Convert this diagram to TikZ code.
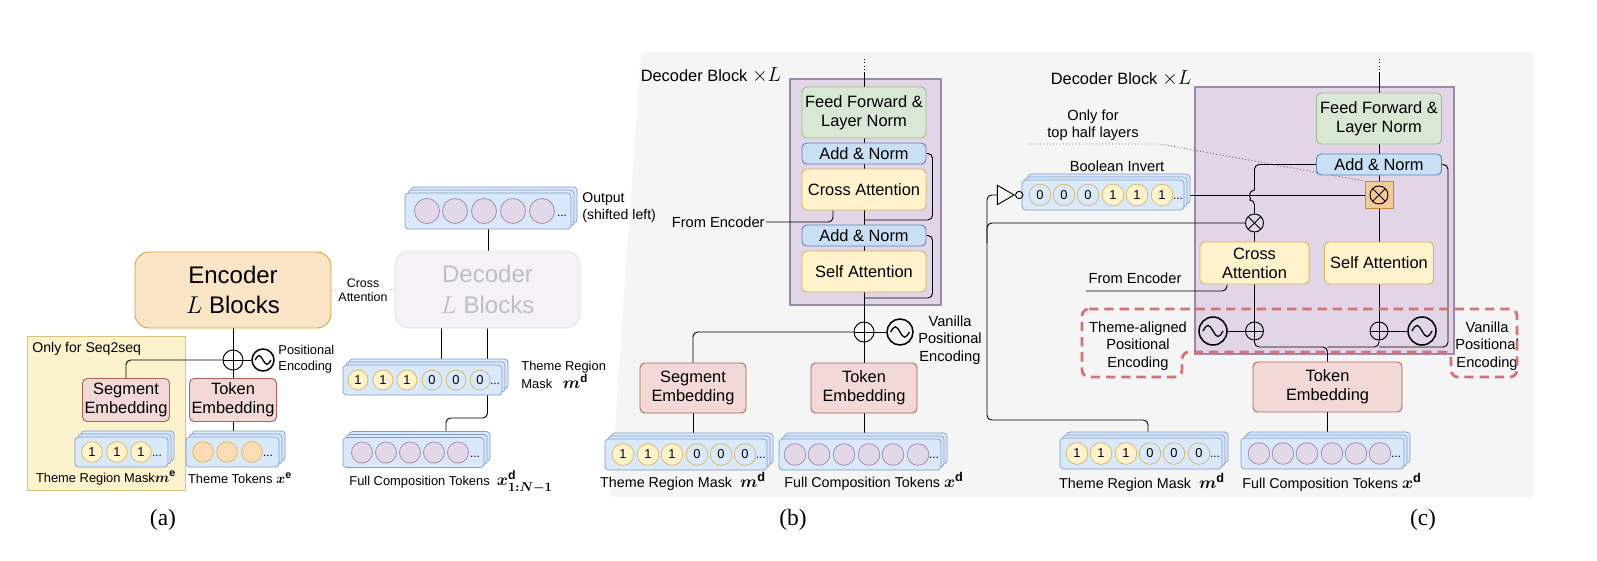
\documentclass[tikz,border=0pt]{standalone}
\usepackage{amsmath}
\usepackage{fontspec}
\setmainfont{Liberation Sans}
\newfontfamily\capfont{Liberation Serif}
\usepackage{xcolor}
\usetikzlibrary{positioning,calc,shadows,shapes.geometric}

\definecolor{encFill}{HTML}{F9E4C6}
\definecolor{encLine}{HTML}{D7A53E}
\definecolor{s2sFill}{HTML}{FCF3CD}
\definecolor{s2sLine}{HTML}{D9C47E}
\definecolor{embFill}{HTML}{F2D9D6}
\definecolor{embLine}{HTML}{B0625B}
\definecolor{attFill}{HTML}{FFF2CC}
\definecolor{attLine}{HTML}{D6B656}
\definecolor{normFill}{HTML}{C9DFF3}
\definecolor{normLine}{HTML}{5E86B8}
\definecolor{ffFill}{HTML}{D8E8D5}
\definecolor{ffLine}{HTML}{9DBE8C}
\definecolor{seqFill}{HTML}{DAE8FC}
\definecolor{seqLine}{HTML}{7C9CCB}
\definecolor{tokFill}{HTML}{E3D8E9}
\definecolor{tokLine}{HTML}{9A8AA3}
\definecolor{orgFill}{HTML}{FBDDB4}
\definecolor{blkFill}{HTML}{E1D5E7}
\definecolor{blkLine}{HTML}{9D88AD}
\definecolor{panelGray}{HTML}{F5F5F5}
\definecolor{decFill}{HTML}{F4F2F6}
\definecolor{decLine}{HTML}{E2DFE6}
\definecolor{decText}{HTML}{BFBFBF}
\definecolor{mulFill}{HTML}{F3CB96}
\definecolor{mulLine}{HTML}{C08A3E}
\definecolor{redDash}{HTML}{D67272}

\pgfdeclarelayer{bg}
\pgfdeclarelayer{wires}
\pgfsetlayers{bg,wires,main}

% bold symbol with bold superscript, set at a given size
\newcommand{\bvec}[3]{{\fontsize{#1}{#1}\selectfont$\boldsymbol{#2}^{\mathbf{#3}}$}}

\tikzset{
  wire/.style={line width=0.8pt, rounded corners=4pt},
  box/.style={draw, rounded corners=4pt, align=center, line width=0.8pt,
    font=\fontsize{14}{16}\selectfont, inner sep=1pt},
  encbox/.style={box, fill=encFill, draw=encLine, rounded corners=12pt,
    font=\fontsize{20.5}{26}\selectfont},
  decbox/.style={box, fill=decFill, draw=decLine, rounded corners=12pt,
    text=decText, font=\fontsize{20.5}{26}\selectfont},
  emb/.style={box, fill=embFill, draw=embLine},
  attn/.style={box, fill=attFill, draw=attLine},
  addnorm/.style={box, fill=normFill, draw=normLine},
  ffn/.style={box, fill=ffFill, draw=ffLine},
  blockbg/.style={draw=blkLine, fill=blkFill, line width=0.9pt},
  seq/.style={draw=seqLine, fill=seqFill, rounded corners=3pt, line width=0.6pt,
    copy shadow={shadow xshift=0.18cm, shadow yshift=0.18cm},
    copy shadow={shadow xshift=0.09cm, shadow yshift=0.09cm}},
  bit/.style={circle, draw=attLine, line width=0.6pt, inner sep=0pt,
    font=\fontsize{11}{11}\selectfont},
  tok/.style={circle, draw=tokLine, fill=tokFill, line width=0.6pt, inner sep=0pt},
  ellip/.style={inner sep=0pt, font=\fontsize{10}{10}\selectfont},
  lbl/.style={inner sep=1pt, align=center, font=\fontsize{12.5}{15}\selectfont},
  smalltxt/.style={font=\fontsize{11}{13.5}\selectfont},
  addop/.style={circle, draw, line width=0.8pt, minimum size=#1, inner sep=0pt,
    path picture={\draw[line width=0.8pt]
      (path picture bounding box.north) -- (path picture bounding box.south)
      (path picture bounding box.west) -- (path picture bounding box.east);}},
  mulop/.style={circle, draw, line width=0.8pt, minimum size=#1, inner sep=0pt,
    path picture={\draw[line width=0.8pt]
      (path picture bounding box.north west) -- (path picture bounding box.south east)
      (path picture bounding box.south west) -- (path picture bounding box.north east);}},
  sinewave/.style={circle, draw, line width=1.3pt, minimum size=#1, inner sep=0pt,
    path picture={\draw[line width=1.1pt]
      ([xshift=-0.36*#1]path picture bounding box.center)
      sin ++(0.18*#1,0.2*#1) cos ++(0.18*#1,-0.2*#1)
      sin ++(0.18*#1,-0.2*#1) cos ++(0.18*#1,0.2*#1);}},
  notgate/.style={isosceles triangle, draw, line width=0.8pt,
    isosceles triangle apex angle=60, minimum size=0.5cm, inner sep=0pt},
}

\begin{document}
\begin{tikzpicture}[x=0.03cm, y=-0.03cm]
\useasboundingbox (0,0) rectangle (1597,560);

% backgrounds
\begin{pgfonlayer}{bg}
  \fill[panelGray] (641,52) -- (1533,52) -- (1533,497) -- (610,497) -- cycle;
  \draw[fill=s2sFill, draw=s2sLine, line width=0.8pt] (27,336) rectangle (185,490);
  \node[blockbg, minimum width=4.53cm, minimum height=6.78cm] (blkB) at (865.5,192) {};
  \node[blockbg, minimum width=7.77cm, minimum height=8.01cm] (blkC) at (1324.5,220.5) {};
\end{pgfonlayer}

% ---------------- (a) ----------------
\node[encbox, minimum width=5.88cm, minimum height=2.28cm] (encA) at (233,290) {Encoder\\$L$ Blocks};
\node[decbox, minimum width=5.55cm, minimum height=2.31cm] (decA) at (487.5,289.5) {Decoder\\$L$ Blocks};
\node[lbl, fill=white, font=\fontsize{10.6}{12}\selectfont] (xattA) at (363,290) {Cross\\Attention};

\node[lbl, anchor=west, font=\fontsize{12}{14}\selectfont] (s2sA) at (31,349) {Only for Seq2seq};
\node[addop=0.6cm] (plusA) at (233,360) {};
\node[sinewave=0.66cm] (sineA) at (263,360) {};
\node[lbl, smalltxt, anchor=west, align=left] (posA) at (277,359) {Positional\\Encoding};
\node[emb, minimum width=2.61cm, minimum height=1.29cm] (segA) at (126,400) {Segment\\Embedding};
\node[emb, minimum width=2.61cm, minimum height=1.29cm] (tokA) at (233,400) {Token\\Embedding};

\node[seq, minimum width=2.79cm, minimum height=0.9cm] (maskA) at (121.5,452) {};
\foreach \x [count=\i] in {92,117,141}
  \node[bit, fill=attFill, minimum size=0.62cm] (maskA-\i) at (\x,452) {1};
\node[ellip] (maskA-dots) at (157,456) {...};
\node[seq, minimum width=2.79cm, minimum height=0.9cm] (tseqA) at (232.5,452) {};
\foreach \x [count=\i] in {203,227,252}
  \node[tok, fill=orgFill, draw=attLine, minimum size=0.62cm] (tseqA-\i) at (\x,452) {};
\node[ellip] (tseqA-dots) at (268,456) {...};
\node[lbl, smalltxt] (mLblA) at (106,478) {Theme Region Mask\bvec{13}{m}{e}};
\node[lbl, smalltxt] (xLblA) at (240,478) {Theme Tokens \bvec{13}{x}{e}};

\node[seq, minimum width=4.98cm, minimum height=1.08cm] (outA) at (488,211) {};
\foreach \x [count=\i] in {427,455,484,513,542}
  \node[tok, minimum size=0.75cm] (outA-\i) at (\x,211) {};
\node[ellip] (outA-dots) at (562,216) {...};
\node[lbl, anchor=west, align=left, font=\fontsize{12}{14.5}\selectfont] (outLblA) at (581,208) {Output\\(shifted left)};

\node[seq, minimum width=4.77cm, minimum height=0.9cm] (maskAd) at (422.5,380) {};
\foreach \x/\v/\f [count=\i] in {358/1/attFill,383/1/attFill,407/1/attFill,432/0/seqFill,456/0/seqFill,480/0/seqFill}
  \node[bit, fill=\f, minimum size=0.6cm] (maskAd-\i) at (\x,380) {\v};
\node[ellip] (maskAd-dots) at (495,384) {...};
\node[lbl, anchor=west, align=left, font=\fontsize{11}{13}\selectfont] (mLblAd) at (520,375) {Theme Region\\Mask\ \ \ \bvec{14}{m}{d}};

\node[seq, minimum width=4.23cm, minimum height=0.9cm] (compA) at (413.5,452.5) {};
\foreach \x [count=\i] in {362,386,410,434,458}
  \node[tok, minimum size=0.63cm] (compA-\i) at (\x,452.5) {};
\node[ellip] (compA-dots) at (475,457) {...};
\node[lbl, smalltxt] (xLblAd) at (451,482) {Full Composition Tokens\ \ {\fontsize{15}{15}\selectfont$\boldsymbol{x}^{\mathbf{d}}_{\boldsymbol{1{:}N{-}1}}$}};

\begin{pgfonlayer}{wires}
  \draw[wire] (encA) -- (plusA);
  \draw[wire] (plusA) -- (tokA);
  \draw[wire] (segA.north) |- (plusA.west);
  \draw[wire] (plusA) -- (sineA);
  \draw[wire] (tokA.south) -- (tokA.south |- tseqA.north);
  \draw[dotted, line width=0.8pt, black!60] (encA.east) -- (decA.west);
  \draw[wire] (outA.south) -- (outA.south |- decA.north);
  \draw[wire] ([xshift=-1.37cm]decA.south) -- ([xshift=-1.37cm]decA.south |- maskAd.north);
  \coordinate (bendA) at (446,418);
  \draw[wire] (decA.south) |- (bendA) -- (bendA |- compA.north);
\end{pgfonlayer}

% ---------------- (b) ----------------
\node[lbl, font=\fontsize{14}{16}\selectfont] (titleB) at (711,75) {Decoder Block {\fontsize{17}{17}\selectfont$\times L$}};
\node[ffn, minimum width=3.72cm, minimum height=1.53cm] (ffB) at (864,112.5) {Feed Forward \&\\Layer Norm};
\node[addnorm, minimum width=3.72cm, minimum height=0.63cm] (anB1) at (864,153.5) {Add \& Norm};
\node[attn, minimum width=3.72cm, minimum height=1.23cm] (caB) at (864,189.5) {Cross Attention};
\node[addnorm, minimum width=3.72cm, minimum height=0.63cm] (anB2) at (864,235.5) {Add \& Norm};
\node[attn, minimum width=3.72cm, minimum height=1.23cm] (saB) at (864,271.5) {Self Attention};
\node[lbl, anchor=east] (feB) at (766,222) {From Encoder};

\node[addop=0.6cm] (plusB) at (864,332) {};
\node[sinewave=0.78cm] (sineB) at (900,332) {};
\node[lbl] (vanB) at (950,340) {Vanilla\\Positional\\Encoding};
\node[emb, minimum width=3.18cm, minimum height=1.5cm] (segB) at (693,388) {Segment\\Embedding};
\node[emb, minimum width=3.18cm, minimum height=1.5cm] (tokB) at (864,388) {Token\\Embedding};

\node[seq, minimum width=4.86cm, minimum height=0.93cm] (maskB) at (686,454.5) {};
\foreach \x/\v/\f [count=\i] in {623/1/attFill,648/1/attFill,672/1/attFill,697/0/seqFill,721/0/seqFill,745/0/seqFill}
  \node[bit, fill=\f, minimum size=0.65cm] (maskB-\i) at (\x,454.5) {\v};
\node[ellip] (maskB-dots) at (761,458) {...};
\node[seq, minimum width=4.86cm, minimum height=0.93cm] (compB) at (860,454.5) {};
\foreach \x [count=\i] in {795,819,844,869,893,918}
  \node[tok, minimum size=0.65cm] (compB-\i) at (\x,454.5) {};
\node[ellip] (compB-dots) at (934,458) {...};
\node[lbl, font=\fontsize{12.2}{15}\selectfont] (mLblB) at (683,481) {Theme Region Mask\ \ \bvec{15.5}{m}{d}};
\node[lbl, font=\fontsize{12.2}{15}\selectfont] (xLblB) at (874,481) {Full Composition Tokens \bvec{15.5}{x}{d}};

\begin{pgfonlayer}{wires}
  \coordinate (topB) at (864,73);
  \draw[wire, dotted] (topB) -- ++(0,-16);
  \draw[wire] (topB) -- (ffB.north);
  \draw[wire] (ffB) -- (anB1);
  \draw[wire] (anB1) -- (caB);
  \draw[wire] (caB) -- (anB2);
  \draw[wire] (anB2) -- (saB);
  \draw[wire] (saB) -- (plusB);
  \draw[wire] (plusB) -- (tokB);
  \coordinate (resB1) at (864,220);
  \coordinate (resB2) at (864,298);
  \draw[wire] (anB1.east) -- ++(6,0) |- (resB1);
  \draw[wire] (anB2.east) -- ++(6,0) |- (resB2);
  \draw[wire] (feB.east) -| ([xshift=-0.93cm]caB.south);
  \draw[wire] (segB.north) |- (plusB.west);
  \draw[wire] (plusB) -- (sineB);
  \draw[wire] (segB.south) -- (segB.south |- maskB.north);
  \draw[wire] (tokB.south) -- (tokB.south |- compB.north);
\end{pgfonlayer}

% ---------------- (c) ----------------
\node[lbl, font=\fontsize{14}{16}\selectfont] (titleC) at (1121,78) {Decoder Block {\fontsize{17}{17}\selectfont$\times L$}};
\node[ffn, minimum width=3.75cm, minimum height=1.53cm] (ffC) at (1379,118.5) {Feed Forward \&\\Layer Norm};
\node[addnorm, minimum width=3.75cm, minimum height=0.63cm] (anC) at (1379,164.5) {Add \& Norm};
\node[draw=mulLine, fill=mulFill, line width=0.8pt, minimum width=0.84cm, minimum height=0.81cm] (multC) at (1379,195) {};
\node[mulop=0.54cm] (multCx) at (multC.center) {};
\node[attn, minimum width=3.27cm, minimum height=1.26cm] (caC) at (1254.5,263) {Cross\\Attention};
\node[attn, minimum width=3.27cm, minimum height=1.26cm] (saC) at (1379,263) {Self Attention};
\node[mulop=0.54cm] (otC) at (1254.5,223) {};

\node[addop=0.54cm] (plusCL) at (1254.5,331) {};
\node[addop=0.54cm] (plusCR) at (1379,331) {};
\node[sinewave=0.84cm] (sineCL) at (1213,331) {};
\node[sinewave=0.84cm] (sineCR) at (1422,331) {};

\node[lbl] (onlyC) at (1093,125) {Only for\\top half layers};
\node[lbl] (boolLbl) at (1117,166) {Boolean Invert};
\node[seq, minimum width=4.86cm, minimum height=0.9cm] (boolC) at (1103,195) {};
\foreach \x/\v/\f [count=\i] in {1040/0/seqFill,1064/0/seqFill,1088/0/seqFill,1113/1/attFill,1137/1/attFill,1162/1/attFill}
  \node[bit, fill=\f, minimum size=0.65cm] (boolC-\i) at (\x,195) {\v};
\node[ellip] (boolC-dots) at (1178,199) {...};
\node[notgate] (notC) at (1003,195) {};
\node[circle, draw, line width=0.8pt, minimum size=0.22cm, inner sep=0pt, right=0pt of notC] (bubC) {};

\node[lbl] (feC) at (1135,278) {From Encoder};
\node[lbl] (thmC) at (1138,346) {Theme-aligned\\Positional\\Encoding};
\node[lbl] (vanC) at (1487,346) {Vanilla\\Positional\\Encoding};
\node[emb, minimum width=4.47cm, minimum height=1.5cm] (tokC) at (1327.5,387) {Token\\Embedding};

\node[seq, minimum width=4.86cm, minimum height=0.93cm] (maskC) at (1141,453.5) {};
\foreach \x/\v/\f [count=\i] in {1077/1/attFill,1101/1/attFill,1126/1/attFill,1150/0/seqFill,1174/0/seqFill,1199/0/seqFill}
  \node[bit, fill=\f, minimum size=0.65cm] (maskC-\i) at (\x,453.5) {\v};
\node[ellip] (maskC-dots) at (1215,457) {...};
\node[seq, minimum width=4.89cm, minimum height=0.93cm] (compC) at (1322.5,453.5) {};
\foreach \x [count=\i] in {1259,1283,1307,1332,1356,1380}
  \node[tok, minimum size=0.65cm] (compC-\i) at (\x,453.5) {};
\node[ellip] (compC-dots) at (1396,457) {...};
\node[lbl, font=\fontsize{12.2}{15}\selectfont] (mLblC) at (1142,482) {Theme Region Mask\ \ \bvec{15.5}{m}{d}};
\node[lbl, font=\fontsize{12.2}{15}\selectfont] (xLblC) at (1332,482) {Full Composition Tokens \bvec{15.5}{x}{d}};

% dashed positional encoding region
\draw[redDash, line width=2.4pt, dash pattern=on 8pt off 5pt, rounded corners=6pt]
  (1082,309) -- (1517,309) -- (1517,377) -- (1451,377) -- (1451,352)
  -- (1182,352) -- (1182,377) -- (1082,377) -- cycle;

\begin{pgfonlayer}{wires}
  \coordinate (topC) at (1379,73);
  \draw[wire, dotted] (topC) -- ++(0,-16);
  \draw[wire] (topC) -- (ffC.north);
  \draw[wire] (ffC) -- (anC);
  \draw[wire] (anC) -- (multC);
  \draw[wire] (multC) -- (saC);
  \draw[wire] (otC) -- (caC);
  \draw[wire] (caC) -- (plusCL);
  \draw[wire] (saC) -- (plusCR);
  \draw[wire] (sineCL) -- (plusCL);
  \draw[wire] (plusCR) -- (sineCR);
  \coordinate (joinC) at (1327.5,347);
  \draw[wire] (plusCL) |- (joinC) -- (tokC);
  \draw[wire] (plusCR) |- (joinC);
  \draw[wire] (anC.east) -- ++(6,0) |- (plusCR |- joinC);
  \coordinate (hopC) at (otC.north |- multC.west);
  \draw[wire] (anC.west) -| ([yshift=0.15cm]hopC);
  \draw[wire] ([yshift=0.15cm]hopC) arc[start angle=90, end angle=270, radius=0.15cm] -- (otC.north);
  \draw[wire] (boolC.east) -- (multC.west);
  \draw[wire] (bubC.east) -- (boolC.west);
  \coordinate (bendC) at (987,420);
  \draw[wire] (notC.west) -| (bendC) -| ([xshift=0.21cm]maskC.north);
  \draw[wire] (otC.west) -| ([yshift=-0.6cm]otC.west -| bendC);
  \coordinate (feCend) at (1086,291);
  \draw[wire] (feCend) -| ([xshift=-0.825cm]caC.south);
  \coordinate (dotC) at (1030,144);
  \draw[dotted, line width=0.8pt, black!60] (dotC) -- ++(130,0) -- (multC.north west);
  \draw[wire] (tokC.south) -- (tokC.south |- compC.north);
\end{pgfonlayer}

% captions
\node[font=\capfont\fontsize{20}{22}\selectfont] (capA) at (163,520) {(a)};
\node[font=\capfont\fontsize{20}{22}\selectfont] (capB) at (793,520) {(b)};
\node[font=\capfont\fontsize{20}{22}\selectfont] (capC) at (1423,520) {(c)};

\end{tikzpicture}
\end{document}
